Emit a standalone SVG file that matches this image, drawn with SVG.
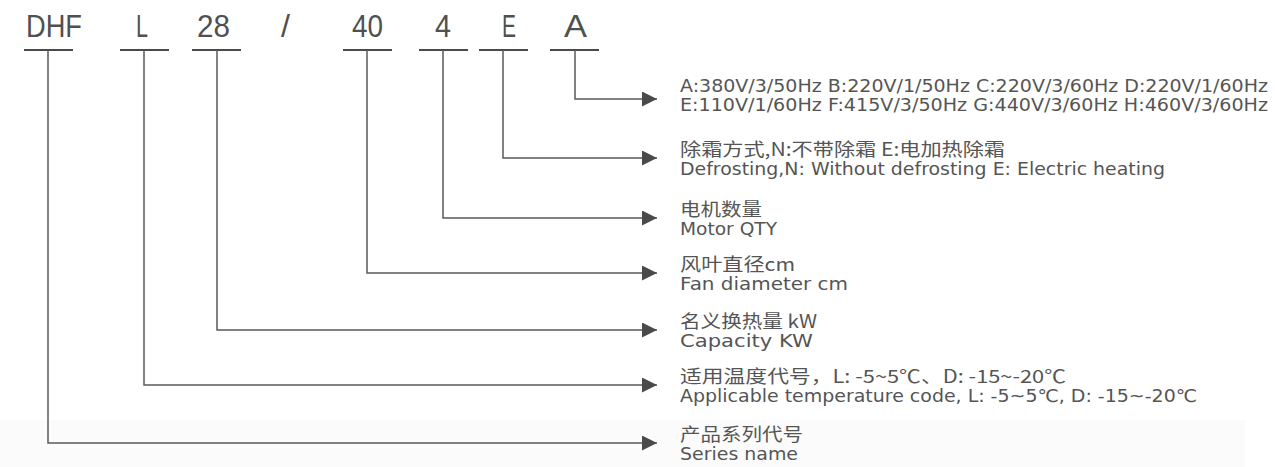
<svg xmlns="http://www.w3.org/2000/svg" width="1275" height="467" viewBox="0 0 1275 467">
<style>
.code{font-family:"Liberation Sans","Noto Sans CJK SC",sans-serif;font-size:31px;fill:#505050}
.bar{stroke:#4a4a4a;stroke-width:2;fill:none}
.conn{stroke:#5a5a5a;stroke-width:1.5;fill:none}
.t{font-family:"DejaVu Sans","Noto Sans CJK SC",sans-serif;font-size:17.5px;fill:#555555}
.cn{font-family:"Noto Sans CJK SC","DejaVu Sans",sans-serif;font-size:18px;fill:#555555}
</style>
<defs>
<marker id="arr" viewBox="0 0 15 15" refX="15" refY="7.5" markerWidth="15" markerHeight="15" markerUnits="userSpaceOnUse" orient="auto">
<path d="M0,0 L15,7.5 L0,15 z" fill="#4a4a4a"/>
</marker>
</defs>
<rect x="0" y="420" width="1245" height="47" fill="#fbfbfb"/>
<g id="code-DHF"><text class="code" x="26" y="37" textLength="56" lengthAdjust="spacingAndGlyphs">DHF</text><line class="bar" x1="24" y1="50" x2="73" y2="50"/></g>
<g id="code-L"><text class="code" x="136" y="37" textLength="12" lengthAdjust="spacingAndGlyphs">L</text><line class="bar" x1="120" y1="50" x2="169" y2="50"/></g>
<g id="code-28"><text class="code" x="197" y="37" textLength="33" lengthAdjust="spacingAndGlyphs">28</text><line class="bar" x1="192" y1="50" x2="241" y2="50"/></g>
<g id="code-slash"><text class="code" x="281" y="37" textLength="9" lengthAdjust="spacingAndGlyphs">/</text></g>
<g id="code-40"><text class="code" x="352" y="37" textLength="31" lengthAdjust="spacingAndGlyphs">40</text><line class="bar" x1="343" y1="50" x2="392" y2="50"/></g>
<g id="code-4"><text class="code" x="435" y="37" textLength="16" lengthAdjust="spacingAndGlyphs">4</text><line class="bar" x1="419" y1="50" x2="468" y2="50"/></g>
<g id="code-E"><text class="code" x="502" y="37" textLength="14" lengthAdjust="spacingAndGlyphs">E</text><line class="bar" x1="479" y1="50" x2="528" y2="50"/></g>
<g id="code-A"><text class="code" x="564" y="37" textLength="23" lengthAdjust="spacingAndGlyphs">A</text><line class="bar" x1="550" y1="50" x2="599" y2="50"/></g>
<g id="connectors">
<polyline class="conn" points="575,50 575,99 657,99" marker-end="url(#arr)"/>
<polyline class="conn" points="503,50 503,158 657,158" marker-end="url(#arr)"/>
<polyline class="conn" points="443,50 443,218 657,218" marker-end="url(#arr)"/>
<polyline class="conn" points="367,50 367,273 657,273" marker-end="url(#arr)"/>
<polyline class="conn" points="217,50 217,330 657,330" marker-end="url(#arr)"/>
<polyline class="conn" points="144,50 144,385 657,385" marker-end="url(#arr)"/>
<polyline class="conn" points="48,50 48,443 657,443" marker-end="url(#arr)"/>
</g>
<g id="desc-A"><text class="t" x="680" y="92" textLength="588" lengthAdjust="spacingAndGlyphs">A:380V/3/50Hz B:220V/1/50Hz C:220V/3/60Hz  D:220V/1/60Hz</text><text class="t" x="680" y="111" textLength="588" lengthAdjust="spacingAndGlyphs">E:110V/1/60Hz  F:415V/3/50Hz G:440V/3/60Hz  H:460V/3/60Hz</text></g>
<g id="desc-E"><text class="cn" x="680" y="156" textLength="325" lengthAdjust="spacingAndGlyphs">除霜方式,N:不带除霜  E:电加热除霜</text><text class="t" x="680" y="175" textLength="485" lengthAdjust="spacingAndGlyphs">Defrosting,N: Without defrosting E: Electric heating</text></g>
<g id="desc-4"><text class="cn" x="680" y="216" textLength="82" lengthAdjust="spacingAndGlyphs">电机数量</text><text class="t" x="680" y="235" textLength="97" lengthAdjust="spacingAndGlyphs">Motor QTY</text></g>
<g id="desc-40"><text class="cn" x="680" y="271" textLength="115" lengthAdjust="spacingAndGlyphs">风叶直径cm</text><text class="t" x="680" y="290" textLength="168" lengthAdjust="spacingAndGlyphs">Fan diameter cm</text></g>
<g id="desc-28"><text class="cn" x="680" y="328" textLength="137" lengthAdjust="spacingAndGlyphs">名义换热量 kW</text><text class="t" x="680" y="347" textLength="133" lengthAdjust="spacingAndGlyphs">Capacity KW</text></g>
<g id="desc-L"><text class="cn" x="680" y="383" textLength="386" lengthAdjust="spacingAndGlyphs">适用温度代号，L: -5~5℃、D: -15~-20℃</text><text class="t" x="680" y="402" textLength="517" lengthAdjust="spacingAndGlyphs">Applicable temperature code, L: -5~5℃, D: -15~-20℃</text></g>
<g id="desc-DHF"><text class="cn" x="680" y="441" textLength="123" lengthAdjust="spacingAndGlyphs">产品系列代号</text><text class="t" x="680" y="460" textLength="118" lengthAdjust="spacingAndGlyphs">Series name</text></g>
</svg>
